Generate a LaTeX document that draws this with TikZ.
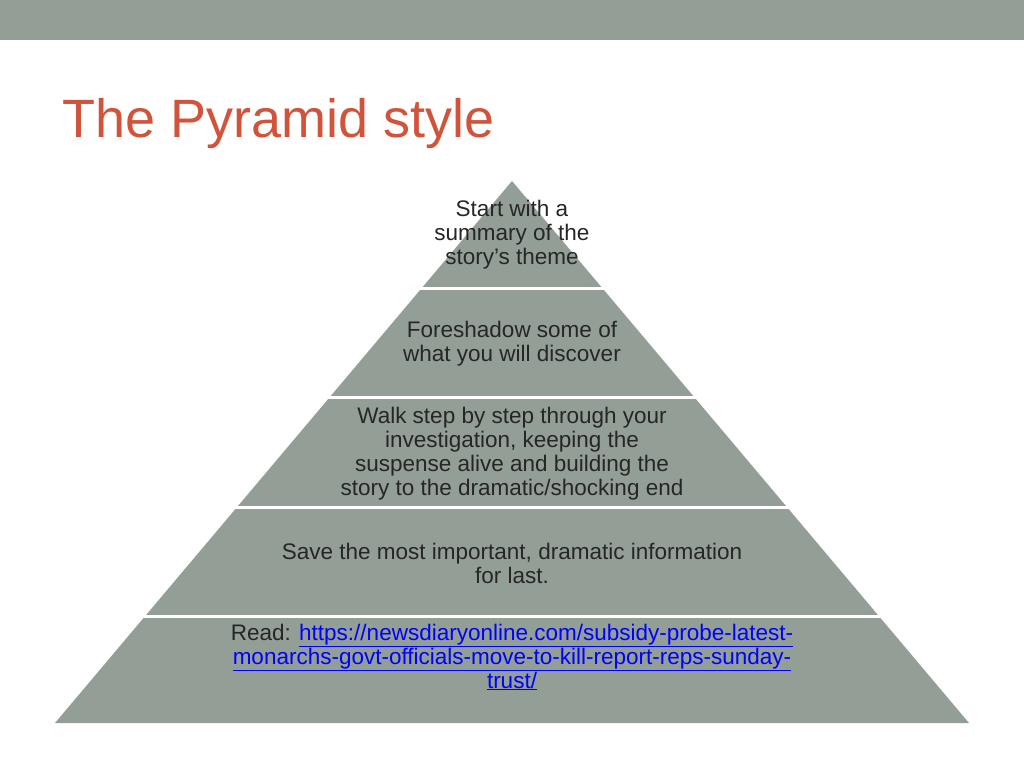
\documentclass[tikz,border=0pt]{standalone}
\usepackage{fontspec}
\setmainfont{Liberation Sans}
\definecolor{bar}{HTML}{939E97}
\definecolor{pyr}{HTML}{939E97}
\definecolor{ttl}{HTML}{D0533B}
\definecolor{txt}{HTML}{262626}
\definecolor{lnk}{HTML}{0000FF}
\newcommand{\lk}[1]{\textcolor{lnk}{\underline{#1}}}
\begin{document}
\begin{tikzpicture}[x=1pt,y=-1pt,
  lbl/.style={align=center,text=txt,font=\fontsize{22.5}{24}\selectfont,inner sep=0pt},
  sep/.style={draw=white,line width=3pt}]
\useasboundingbox (0,0) rectangle (1024,768);
\fill[bar] (0,0) rectangle (1024,40);
\node[anchor=base west,text=ttl,font=\fontsize{54}{60}\selectfont,inner sep=0pt] (title) at (62,137) {The Pyramid style};
\fill[pyr] (512,181) -- (969,723) -- (55,723) -- cycle;
\foreach \y in {288,397,507,616}{
  \draw[sep] ({512-0.843*(\y-181)-2},\y) -- ({512+0.843*(\y-181)+2},\y);}
\node[lbl] (b1) at (512,235) {Start with a\\summary of the\\story’s theme};
\node[lbl] (b2) at (512,344) {Foreshadow some of\\what you will discover};
\node[lbl] (b3) at (512,454) {Walk step by step through your\\investigation, keeping the\\suspense alive and building the\\story to the dramatic/shocking end};
\node[lbl] (b4) at (512,563) {Save the most important, dramatic information\\for last.};
\node[lbl] (b5) at (512,657) {Read: \lk{https://newsdiaryonline.com/subsidy-probe-latest-}\\\lk{monarchs-govt-officials-move-to-kill-report-reps-sunday-}\\\lk{trust/}};
\end{tikzpicture}
\end{document}
